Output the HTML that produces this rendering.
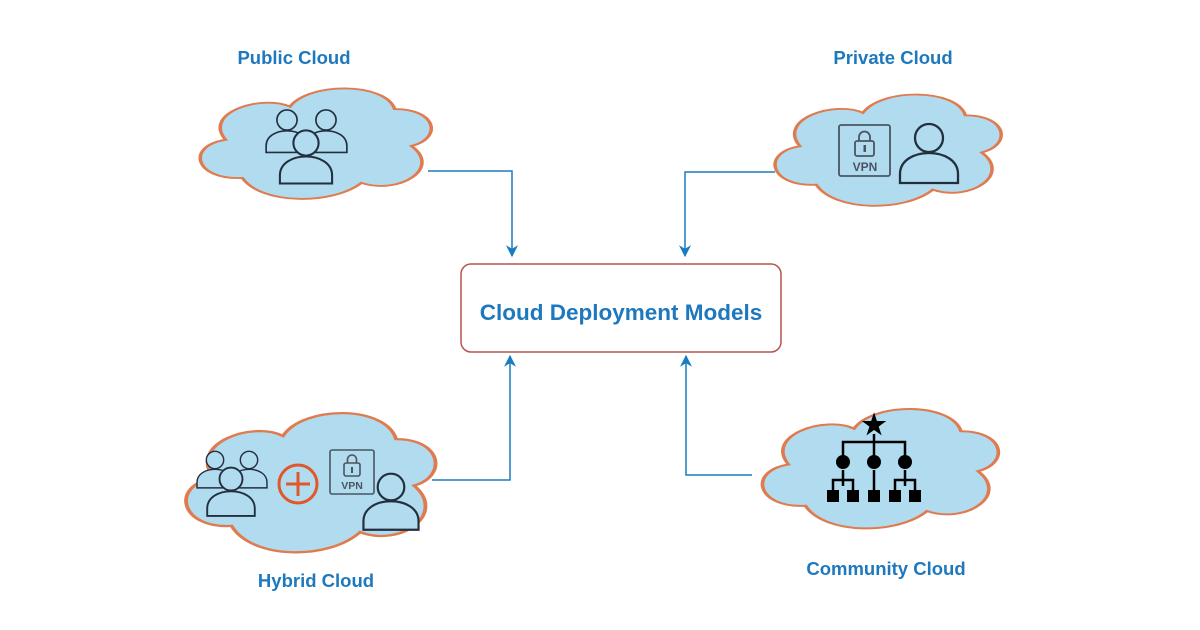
<!DOCTYPE html>
<html><head><meta charset="utf-8"><style>
html,body{margin:0;padding:0;background:#fff;}
svg{display:block;}
text{font-family:"Liberation Sans",sans-serif;font-weight:bold;}
</style></head><body>
<svg width="1200" height="630" viewBox="0 0 1200 630" xmlns="http://www.w3.org/2000/svg">
<defs>
<path id="cl" d="M22,78 C2,80 -2,52 15,47 C5,25 30,10 42,20 C50,0 82,0 86,22 C104,22 106,46 93,52 C106,70 88,92 72,82 C60,100 30,100 22,78 Z"/>
<g id="user" fill="#b1dcef" stroke="#232f3e" stroke-width="2.3">
<path d="M-29,45 V36 C-29,8 29,8 29,36 V45 Z"/>
<circle cx="0" cy="0" r="14"/>
</g>
<marker id="ar" viewBox="0 0 10 10" refX="9" refY="5" markerWidth="8" markerHeight="8" orient="auto"><path d="M0,0 L10,5 L0,10 L3,5 Z" fill="#1a7cbf"/></marker>
</defs>
<g fill="#b1dcef" stroke="#e07b4f" stroke-width="1.5">
<use href="#cl" transform="translate(190,82) scale(2.38,1.23)"/>
<use href="#cl" transform="translate(765,88) scale(2.33,1.24)"/>
<use href="#cl" transform="translate(175,405) scale(2.57,1.55)"/>
<use href="#cl" transform="translate(752,402) scale(2.43,1.33)"/>
</g>
<g fill="none" stroke="#1a7cbf" stroke-width="1.5">
<path d="M428,171 H512 V256" marker-end="url(#ar)"/>
<path d="M775,172 H685 V256" marker-end="url(#ar)"/>
<path d="M432,480 H510 V356" marker-end="url(#ar)"/>
<path d="M752,475 H686 V356" marker-end="url(#ar)"/>
</g>
<rect x="461" y="264" width="320" height="88" rx="10" fill="#fff" stroke="#b85450" stroke-width="1.5"/>
<text x="621" y="320" text-anchor="middle" font-size="22.5" fill="#1e78bd">Cloud Deployment Models</text>
<g font-size="18.5" fill="#1e78bd" text-anchor="middle">
<text x="294" y="64">Public Cloud</text>
<text x="893" y="64">Private Cloud</text>
<text x="316" y="587">Hybrid Cloud</text>
<text x="886" y="575">Community Cloud</text>
</g>
<!-- public users -->
<g transform="translate(287,120) scale(0.72)"><use href="#user"/></g>
<g transform="translate(326,120) scale(0.72)"><use href="#user"/></g>
<g transform="translate(306,143) scale(0.9)"><use href="#user"/></g>
<!-- private -->
<rect x="839" y="125" width="51" height="51" rx="2" fill="none" stroke="#4a5560" stroke-width="1.8"/>
<rect x="855" y="141" width="19" height="15" rx="2" fill="none" stroke="#4a5560" stroke-width="1.8"/>
<path d="M859,141 V137 a5.5,5.5 0 0 1 11,0 V141" fill="none" stroke="#4a5560" stroke-width="1.8"/>
<rect x="863.5" y="145" width="2.5" height="7" fill="#4a5560"/>
<text x="865" y="171" font-size="12" fill="#4a5560" text-anchor="middle">VPN</text>
<g transform="translate(929,138) scale(1.0)"><use href="#user"/></g>
<!-- hybrid -->
<g transform="translate(215,460) scale(0.62)"><use href="#user"/></g>
<g transform="translate(249,460) scale(0.62)"><use href="#user"/></g>
<g transform="translate(231,479) scale(0.82)"><use href="#user"/></g>
<circle cx="298" cy="484" r="19" fill="none" stroke="#e0572b" stroke-width="3"/>
<path d="M298,472 V496 M286,484 H310" stroke="#e0572b" stroke-width="3"/>
<rect x="330" y="450" width="44" height="44" rx="2" fill="none" stroke="#4a5560" stroke-width="1.6"/>
<rect x="344" y="463" width="16" height="13" rx="2" fill="none" stroke="#4a5560" stroke-width="1.6"/>
<path d="M347.5,463 V459.5 a4.5,4.5 0 0 1 9,0 V463" fill="none" stroke="#4a5560" stroke-width="1.6"/>
<rect x="351" y="467" width="2" height="6" fill="#4a5560"/>
<text x="352" y="489" font-size="10.5" fill="#4a5560" text-anchor="middle">VPN</text>
<g transform="translate(391,487) scale(0.95)"><use href="#user"/></g>
<!-- community -->
<text x="874" y="434" font-size="28" text-anchor="middle" fill="#000">★</text>
<g stroke="#000" stroke-width="2.5" fill="none">
<path d="M874,434 V462 M843,462 V442 H905 V462"/>
<path d="M843,470 V486 M833,494 V480 H853 V494"/>
<path d="M874,470 V492"/>
<path d="M905,470 V486 M895,494 V480 H915 V494"/>
</g>
<g fill="#000">
<circle cx="843" cy="462" r="7"/><circle cx="874" cy="462" r="7"/><circle cx="905" cy="462" r="7"/>
<rect x="827" y="490" width="12" height="12"/><rect x="847" y="490" width="12" height="12"/>
<rect x="868" y="490" width="12" height="12"/>
<rect x="889" y="490" width="12" height="12"/><rect x="909" y="490" width="12" height="12"/>
</g>
</svg>
</body></html>
